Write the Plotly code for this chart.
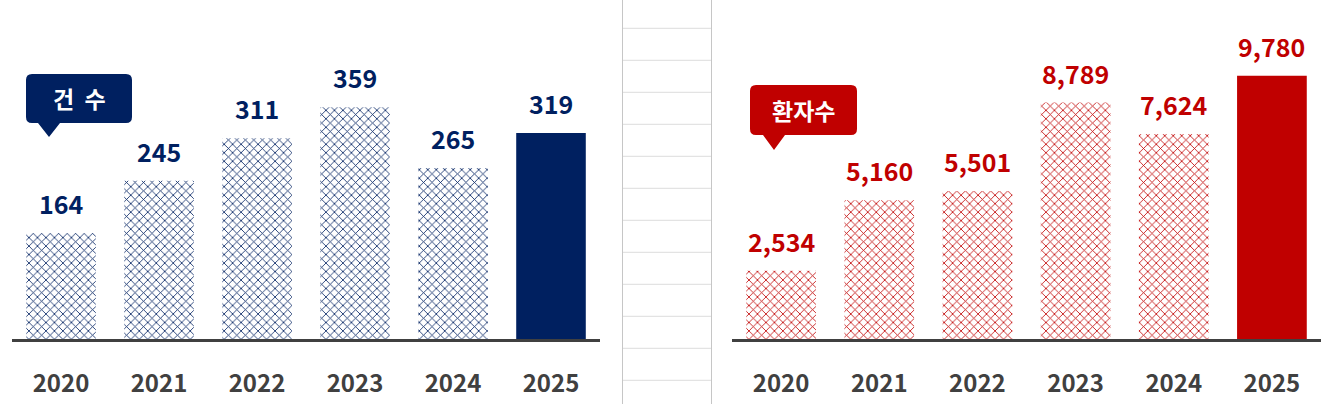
import plotly.graph_objects as go

years = ["2020", "2021", "2022", "2023", "2024", "2025"]
cases = [164, 245, 311, 359, 265, 319]
patients = [2534, 5160, 5501, 8789, 7624, 9780]

NAVY = "#002060"
RED = "#C00000"
GRAY = "#404040"
FONT = "Noto Sans CJK KR"

W, H = 1331, 404


def px(x):
    return x / W


def py(y):
    return 1 - y / H


def callout(x0, y0, x1, y1, tip_x, tip_y, base_w, r=6):
    # rounded box with a little pointer below, given in pixel units
    pts = [
        f"M {px(x0 + r)},{py(y0)}",
        f"L {px(x1 - r)},{py(y0)}",
        f"Q {px(x1)},{py(y0)} {px(x1)},{py(y0 + r)}",
        f"L {px(x1)},{py(y1 - r)}",
        f"Q {px(x1)},{py(y1)} {px(x1 - r)},{py(y1)}",
        f"L {px(tip_x + base_w / 2)},{py(y1)}",
        f"L {px(tip_x)},{py(tip_y)}",
        f"L {px(tip_x - base_w / 2)},{py(y1)}",
        f"L {px(x0 + r)},{py(y1)}",
        f"Q {px(x0)},{py(y1)} {px(x0)},{py(y1 - r)}",
        f"L {px(x0)},{py(y0 + r)}",
        f"Q {px(x0)},{py(y0)} {px(x0 + r)},{py(y0)}",
        "Z",
    ]
    return " ".join(pts)


def bar_marker(color):
    # last year solid, earlier years hatched
    return dict(color=color, line=dict(width=0),
                pattern=dict(shape=["x"] * 5 + [""], fgcolor=color,
                             bgcolor="white", size=6, solidity=0.25,
                             fillmode="replace"))


fig = go.Figure()

fig.add_trace(go.Bar(x=years, y=cases, xaxis="x", yaxis="y", width=0.71,
                     marker=bar_marker(NAVY), hoverinfo="skip"))
fig.add_trace(go.Bar(x=years, y=patients, xaxis="x2", yaxis="y2", width=0.71,
                     marker=bar_marker(RED), hoverinfo="skip"))

annotations = []
for i, v in enumerate(cases):
    annotations.append(dict(x=i, y=v, xref="x", yref="y", text=f"{v:,}",
                            showarrow=False, yanchor="bottom", yshift=10,
                            font=dict(family=FONT, size=25, color=NAVY, weight=700)))
for i, v in enumerate(patients):
    annotations.append(dict(x=i, y=v, xref="x2", yref="y2", text=f"{v:,}",
                            showarrow=False, yanchor="bottom", yshift=10,
                            font=dict(family=FONT, size=25, color=RED, weight=700)))

annotations.append(dict(x=px(79), y=py(98), xref="paper", yref="paper", text="건  수",
                        xanchor="center", yanchor="middle", showarrow=False,
                        font=dict(family=FONT, size=23, color="white", weight=700)))
annotations.append(dict(x=px(803), y=py(110), xref="paper", yref="paper", text="환자수",
                        xanchor="center", yanchor="middle", showarrow=False,
                        font=dict(family=FONT, size=23, color="white", weight=700)))

shapes = [
    dict(type="path", xref="paper", yref="paper", path=callout(26, 74, 132, 123, 49, 137, 22),
         fillcolor=NAVY, line=dict(width=0), layer="below"),
    dict(type="path", xref="paper", yref="paper", path=callout(750, 85, 857, 135, 774, 150, 22),
         fillcolor=RED, line=dict(width=0), layer="below"),
]

# spreadsheet-like strip in the middle
for gx in (622.5, 711.5):
    shapes.append(dict(type="line", xref="paper", yref="paper", x0=px(gx), x1=px(gx),
                       y0=0, y1=1, line=dict(color="#c6c6c6", width=1)))
for k in range(12):
    gy = 28.3 + 32 * k
    shapes.append(dict(type="line", xref="paper", yref="paper", x0=px(623), x1=px(711),
                       y0=py(gy), y1=py(gy), line=dict(color="#dcdcdc", width=1)))

base = py(339)
xaxis_common = dict(type="category", range=[-0.5, 5.5], showline=True, linecolor=GRAY,
                    linewidth=3, showgrid=False, zeroline=False, ticks="",
                    ticklabelstandoff=21,
                    tickfont=dict(family=FONT, size=24, color=GRAY, weight=700))
yaxis_common = dict(visible=False, showgrid=False, zeroline=False)

fig.update_layout(
    width=W, height=H,
    margin=dict(l=0, r=0, t=0, b=0),
    paper_bgcolor="white", plot_bgcolor="white",
    showlegend=False,
    xaxis=dict(domain=[px(12), px(600)], anchor="y", **xaxis_common),
    yaxis=dict(domain=[base, 1], range=[0, 525], anchor="x", **yaxis_common),
    xaxis2=dict(domain=[px(732), px(1321)], anchor="y2", **xaxis_common),
    yaxis2=dict(domain=[base, 1], range=[0, 12600], anchor="x2", **yaxis_common),
    annotations=annotations,
    shapes=shapes,
)

fig.write_html("out.html", config={"displayModeBar": False},
               post_script="document.body.style.margin='0';")
